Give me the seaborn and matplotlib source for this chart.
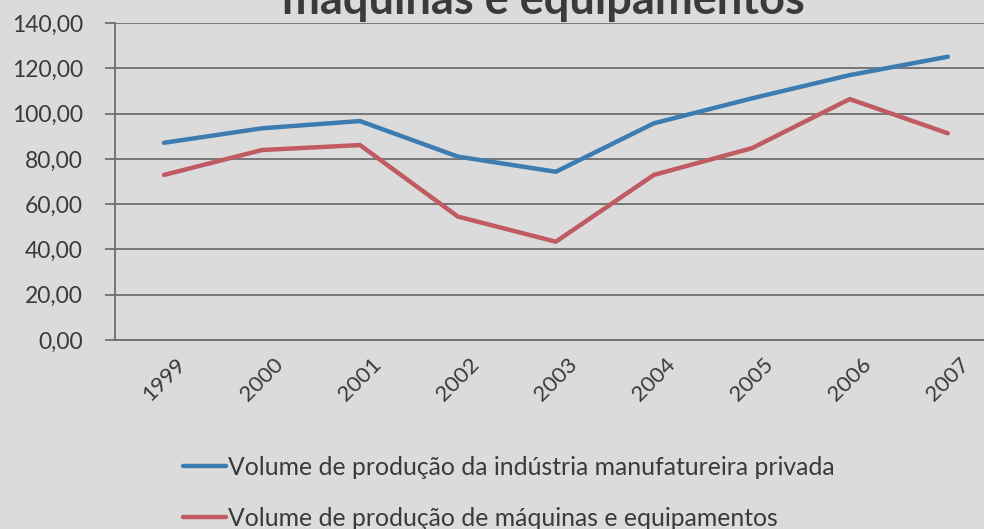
import matplotlib
matplotlib.use("Agg")
import matplotlib.pyplot as plt
import seaborn as sns
import pandas as pd
import numpy as np
from matplotlib.ticker import FixedLocator, FuncFormatter

# Data
years = ["1999", "2000", "2001", "2002", "2003", "2004", "2005", "2006", "2007"]
industria = [87.1, 93.5, 96.7, 81.0, 74.3, 95.7, 106.7, 117.0, 125.1]
maquinas = [72.9, 83.9, 86.1, 54.5, 43.4, 72.9, 84.7, 106.4, 91.3]
series_names = [
    "Volume de produção da indústria manufatureira privada",
    "Volume de produção de máquinas e equipamentos",
]
title_text = "máquinas e equipamentos"
y_ticks = [0, 20, 40, 60, 80, 100, 120, 140]

df = pd.DataFrame({
    "pos": list(range(len(years))) * 2,
    "valor": industria + maquinas,
    "serie": [series_names[0]] * len(years) + [series_names[1]] * len(years),
})

sns.set_theme(style="white")
plt.rcParams["font.family"] = ["Lato", "DejaVu Sans"]

bg = "#dbdbdb"
fig = plt.figure(figsize=(9.84, 5.29), dpi=100, facecolor=bg)
ax = fig.add_axes([0.1169, 0.3573, 0.896, 0.5992], facecolor=bg)

palette = {series_names[0]: "#3c7cb0", series_names[1]: "#c05a63"}
sns.lineplot(data=df, x="pos", y="valor", hue="serie", palette=palette,
             linewidth=3.2, ax=ax, legend=True, zorder=3)

ax.set_xlim(-0.5, len(years) - 0.5)
ax.set_ylim(0, 140)
ax.set_xlabel("")
ax.set_ylabel("")

# Horizontal gridlines
ax.yaxis.set_major_locator(FixedLocator(y_ticks))
ax.yaxis.set_major_formatter(FuncFormatter(lambda v, p: f"{v:.2f}".replace(".", ",")))
ax.grid(axis="y", color="#6f6f6f", linewidth=1.3)
ax.grid(axis="x", visible=False)

# Category labels at centres, tick marks at boundaries
ax.set_xticks(range(len(years)))
ax.set_xticklabels(years, rotation=45, ha="center", va="top")
ax.set_xticks(np.arange(-0.5, len(years) + 0.5, 1), minor=True)
ax.tick_params(axis="x", which="major", length=0, pad=10, labelsize=16, labelcolor="#3a3a3a")
ax.tick_params(axis="x", which="minor", length=5, width=1.0, color="#6f6f6f", direction="out")
ax.tick_params(axis="y", length=7, width=1.3, color="#6f6f6f", direction="out",
               pad=16, labelsize=16.5, labelcolor="#3a3a3a", left=True)

for side in ["top", "right"]:
    ax.spines[side].set_visible(False)
ax.spines["left"].set_color("#6f6f6f")
ax.spines["left"].set_linewidth(1.3)
ax.spines["bottom"].set_color("#6f6f6f")
ax.spines["bottom"].set_linewidth(1.3)

# Legend stacked below the axis labels
handles, labels = ax.get_legend_handles_labels()
ax.legend_.remove()
fig.legend(handles, labels, loc="upper left", bbox_to_anchor=(183 / 984, 1 - 456 / 529),
           frameon=False, fontsize=17.8, handlelength=1.75, handletextpad=0.05,
           labelspacing=1.12, labelcolor="#3a3a3a", borderaxespad=0, borderpad=0)
for line in fig.legends[0].get_lines():
    line.set_linewidth(3.2)

# Title, partially outside the top edge
fig.text(543 / 984, 1 - 14 / 529, title_text, ha="center", va="baseline",
         fontsize=32.5, fontweight="bold", color="#3a3a3a")

fig.savefig("out.png", dpi=100, facecolor=bg)
